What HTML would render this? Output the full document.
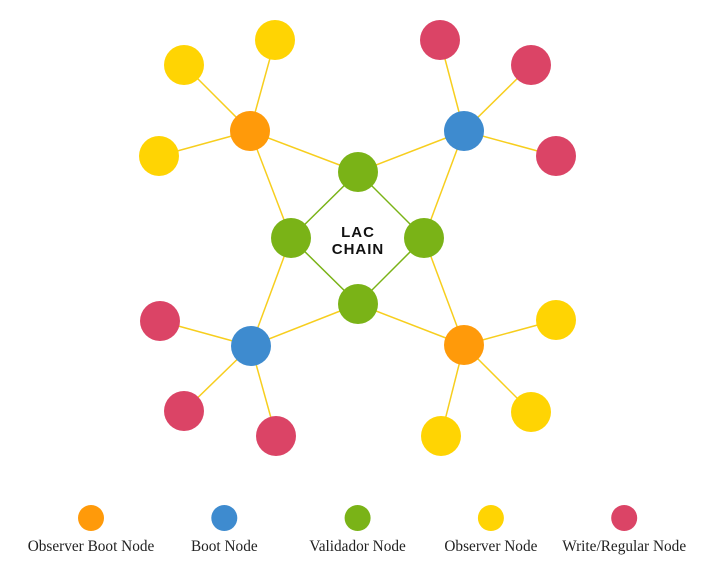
<!DOCTYPE html>
<html><head><meta charset="utf-8"><style>
html,body{margin:0;padding:0;background:#fff;}
svg{display:block;}
</style></head><body>
<svg id="chart" width="723" height="575" viewBox="0 0 723 575" xmlns="http://www.w3.org/2000/svg">
<g id="edges"></g>
<g id="nodes"></g>
<text x="358" y="237" text-anchor="middle" font-family="Liberation Sans, sans-serif" font-weight="bold" font-size="15" letter-spacing="1" fill="#111">LAC</text>
<text x="358" y="254" text-anchor="middle" font-family="Liberation Sans, sans-serif" font-weight="bold" font-size="15" letter-spacing="1" fill="#111">CHAIN</text>
<g id="legend"></g>
</svg>
<script>
const nodeIds = ['g1','g2','g3','g4','o1','o2','b1','b2','y1','y2','y3','r1','r2','r3','r4','r5','r6','y4','y5','y6'];
const nodeTypes = ['validator','validator','validator','validator','obsboot','obsboot','boot','boot','observer','observer','observer','write','write','write','write','write','write','observer','observer','observer'];
const nodeX = [358,291,424,358,250,464,464,251,275,184,159,440,531,556,160,184,276,556,531,441];
const nodeY = [172,238,238,304,131,345,131,346,40,65,156,40,65,156,321,411,436,320,412,436];
const edgeFrom = ['g1','g1','g4','g4','o1','o1','o1','o1','o1','b1','b1','b1','b1','b1','b2','b2','b2','b2','b2','o2','o2','o2','o2','o2'];
const edgeTo   = ['g2','g3','g2','g3','y1','y2','y3','g1','g2','r1','r2','r3','g1','g3','r4','r5','r6','g2','g4','y4','y5','y6','g3','g4'];
const legendTypes = ['obsboot','boot','validator','observer','write'];
const legendLabels = ['Observer Boot Node','Boot Node','Validador Node','Observer Node','Write/Regular Node'];
const colors = {validator:'#7AB317',obsboot:'#FF9A0A',boot:'#3E8BCF',observer:'#FFD403',write:'#DB4466'};
const NS='http://www.w3.org/2000/svg';
const idx = id => nodeIds.indexOf(id);
const eg = document.getElementById('edges');
edgeFrom.forEach((f,i)=>{
  const a=idx(f), b=idx(edgeTo[i]);
  const l=document.createElementNS(NS,'line');
  l.setAttribute('x1',nodeX[a]);l.setAttribute('y1',nodeY[a]);
  l.setAttribute('x2',nodeX[b]);l.setAttribute('y2',nodeY[b]);
  const green = nodeTypes[a]==='validator' && nodeTypes[b]==='validator';
  l.setAttribute('stroke', green ? '#7AB317' : '#F7CE1E');
  l.setAttribute('stroke-width','1.5');
  
  
  eg.appendChild(l);
});
const ng = document.getElementById('nodes');
nodeIds.forEach((id,i)=>{
  const c=document.createElementNS(NS,'circle');
  c.setAttribute('cx',nodeX[i]);c.setAttribute('cy',nodeY[i]);c.setAttribute('r',20);
  c.setAttribute('fill',colors[nodeTypes[i]]);
  
  
  ng.appendChild(c);
});
const lg = document.getElementById('legend');
legendTypes.forEach((t,i)=>{
  const x = 91 + i*133.3;
  const c=document.createElementNS(NS,'circle');
  c.setAttribute('cx',x);c.setAttribute('cy',518);c.setAttribute('r',13);
  c.setAttribute('fill',colors[t]);
  
  
  lg.appendChild(c);
  const tx=document.createElementNS(NS,'text');
  tx.setAttribute('x',x);tx.setAttribute('y',551);
  tx.setAttribute('text-anchor','middle');
  tx.setAttribute('font-family','Liberation Serif, serif');
  tx.setAttribute('font-size','15.3');
  tx.setAttribute('fill','#222');
  tx.textContent = legendLabels[i];
  
  
  lg.appendChild(tx);
});
</script>
</body></html>
